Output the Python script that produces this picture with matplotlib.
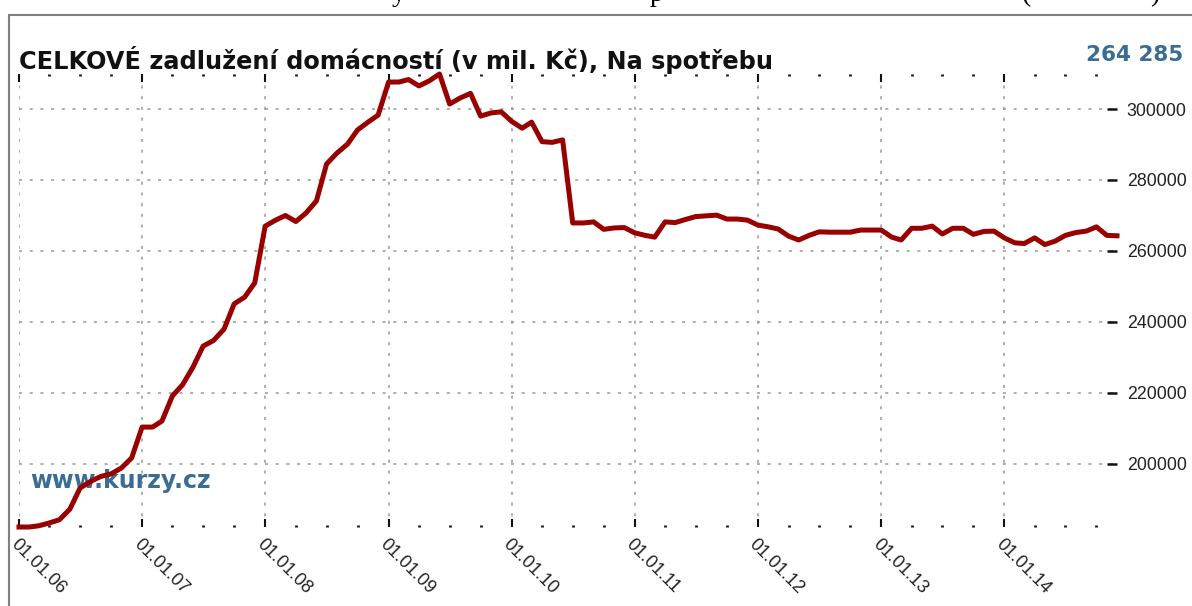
import numpy as np
import pandas as pd
import matplotlib.pyplot as plt
from matplotlib.patches import Rectangle

# mesicni data, leden 2006 - prosinec 2014 (v mil. Kc)
months = pd.date_range('2006-01-01', periods=108, freq='MS')
values = [
    182250, 182250, 182600, 183400, 184300, 187300, 193200, 195100, 196500, 197200, 198900, 201700,  # 2006
    210400, 210400, 212100, 219200, 222300, 227300, 233200, 234800, 238000, 245100, 247000, 251000,  # 2007
    267000, 268700, 270000, 268300, 270700, 274100, 284500, 287600, 290100, 294100, 296300, 298300,  # 2008
    307600, 307600, 308300, 306500, 307900, 309860, 301400, 303100, 304400, 298000, 298900, 299200,  # 2009
    296500, 294600, 296300, 290800, 290600, 291300, 267900, 267900, 268200, 266100, 266500, 266600,  # 2010
    265100, 264400, 263900, 268200, 268000, 268900, 269700, 269900, 270100, 269000, 269000, 268700,  # 2011
    267300, 266800, 266200, 264200, 263100, 264400, 265400, 265300, 265300, 265300, 265900, 265900,  # 2012
    265900, 263900, 263100, 266400, 266400, 267000, 264800, 266400, 266400, 264700, 265500, 265600,  # 2013
    263700, 262300, 262100, 263700, 261800, 262800, 264400, 265200, 265600, 266800, 264400, 264285,  # 2014
]
year_ticks = pd.date_range('2006-01-01', '2014-01-01', freq='YS')
quarter_ticks = [d for d in pd.date_range('2006-01-01', '2014-12-01', freq='QS') if d.month != 1]
y_ticks = [200000, 220000, 240000, 260000, 280000, 300000]

title = 'CELKOVÉ zadlužení domácností (v mil. Kč), Na spotřebu'
last_value = '264 285'

red = '#990000'
blue = '#3b6c93'

fig = plt.figure(figsize=(11.92, 6.06), dpi=100)
W, H = 1192.0, 606.0

# ramecek grafu
fig.patches.append(Rectangle((9 / W, -0.1), 1.2, 1 - 15 / H + 0.1, transform=fig.transFigure,
                             fill=False, edgecolor='#808080', linewidth=1.5))

# zbytky textu stranky nahore (oriznute hornim okrajem)
for ch, xp in [('y', 392), ('p', 650), ('(', 1022), (')', 1150)]:
    fig.text(xp / W, 1 - 1 / H, ch, family='Liberation Serif', fontsize=20,
             va='baseline', ha='left', color='black')

ax = fig.add_axes([19 / W, 1 - 527 / H, (1117 - 19) / W, (527 - 74) / H])
ax.plot(months, values, color=red, linewidth=3.6, clip_on=False, zorder=3)

ax.set_xlim(months[0], months[-1])
ax.set_ylim(min(values), max(values))

for s in ax.spines.values():
    s.set_visible(False)

ax.set_xticks(year_ticks)
ax.set_xticks(quarter_ticks, minor=True)
ax.set_xticklabels([d.strftime('%d.%m.%y') for d in year_ticks], rotation=-45,
                   ha='left', va='top', rotation_mode='anchor',
                   family='Liberation Sans', fontsize=13, color='#222222')
ax.tick_params(axis='x', which='major', direction='in', length=6, width=1.5,
               top=True, bottom=True, pad=6, color='#111111')
ax.tick_params(axis='x', which='minor', direction='in', length=1.5, width=2,
               top=True, bottom=True, color='#111111')

ax.set_yticks(y_ticks)
ax.yaxis.tick_right()
ax.tick_params(axis='y', direction='in', length=7, width=1.8, left=False, right=True,
               pad=7, labelsize=12.8, labelcolor='#222222', color='#111111')
for lbl in ax.get_yticklabels():
    lbl.set_family('Liberation Sans')

ax.grid(True, which='major', color='#999999', linestyle=(0, (2, 5)), linewidth=1.1)

fig.text(19 / W, 1 - 69 / H, title, fontsize=17.3, fontweight='bold', color='#111111',
         va='baseline', ha='left')
fig.text(1183 / W, 1 - 61 / H, last_value, fontsize=15.5, fontweight='bold', color=blue,
         va='baseline', ha='right')
ax.text(30 / W, 1 - 488 / H, 'www.kurzy.cz', transform=fig.transFigure, fontsize=17,
        fontweight='bold', color=blue, va='baseline', ha='left', zorder=2)

fig.savefig('out.png', dpi=100, facecolor='white')
